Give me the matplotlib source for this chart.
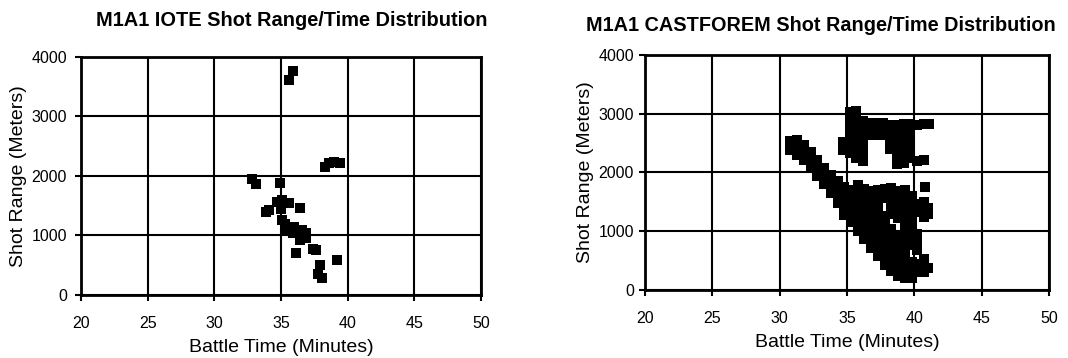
import matplotlib
matplotlib.use("Agg")
import matplotlib.pyplot as plt

plt.rcParams['font.family'] = ['Liberation Sans', 'DejaVu Sans']

# IOTE shots (minutes, meters)
iote_time = [35.9, 35.6, 38.3, 38.6, 39.0, 39.4, 32.8, 33.1, 34.9, 34.1, 33.9,
             34.7, 35.1, 35.6, 36.4, 35.0, 35.1, 35.3, 35.4, 35.6, 35.9, 36.0,
             36.4, 36.6, 36.9, 36.9, 36.4, 37.4, 37.6, 36.1, 37.9, 37.8, 38.1,
             39.2]
iote_range = [3770, 3620, 2150, 2210, 2230, 2220, 1950, 1870, 1885, 1430, 1400,
              1570, 1590, 1540, 1460, 1450, 1260, 1200, 1090, 1100, 1035, 1150,
              1035, 1100, 1035, 950, 920, 780, 755, 700, 500, 360, 280,
              590]

# CASTFOREM shots, listed column by column
cast_time = (
    [30.8] * 2 + [31.3] * 3 + [31.8] * 3 + [32.3] * 3 + [32.8] * 3 + [33.3] * 3
    + [33.8] * 3 + [34.3] * 4 + [34.8] * 5
    + [35.3] * 5 + [35.8] * 7 + [36.3] * 7 + [36.8] * 8 + [37.3] * 9
    + [37.8] * 9 + [38.3] * 10 + [38.8] * 10 + [39.3] * 12 + [39.8] * 10
    + [40.2] * 7 + [40.7] * 6 + [41.0] * 3 + [40.8]
    + [34.7] * 2 + [35.2] * 6 + [35.7] * 7 + [36.2] * 6 + [36.7] * 3
    + [37.2] * 3 + [37.7] * 3 + [38.2] * 4 + [38.7] * 6 + [39.2] * 6
    + [39.7] * 5 + [40.2] * 2 + [40.7] * 2 + [41.1]
)
cast_range = (
    [2380, 2530] + [2300, 2450, 2550] + [2220, 2360, 2460] + [2090, 2230, 2350]
    + [1940, 2080, 2210] + [1800, 1940, 2070] + [1650, 1790, 1950]
    + [1480, 1620, 1760, 1860] + [1280, 1420, 1560, 1700, 1760]
    + [1150, 1290, 1430, 1570, 1710]
    + [1000, 1140, 1280, 1420, 1560, 1700, 1780]
    + [870, 1010, 1150, 1290, 1430, 1570, 1720]
    + [720, 860, 1000, 1140, 1280, 1420, 1550, 1690]
    + [570, 710, 850, 990, 1130, 1270, 1420, 1570, 1700]
    + [420, 560, 700, 840, 980, 1120, 1260, 1560, 1720]
    + [330, 470, 610, 750, 890, 1030, 1300, 1450, 1600, 1740]
    + [230, 370, 510, 650, 790, 930, 1230, 1370, 1520, 1680]
    + [200, 340, 480, 620, 760, 900, 1040, 1180, 1320, 1460, 1600, 1700]
    + [200, 340, 480, 760, 900, 1040, 1180, 1320, 1460, 1600]
    + [300, 440, 680, 820, 960, 1320, 1460]
    + [300, 420, 520, 1250, 1400, 1500]
    + [380, 1300, 1400] + [1750]
    + [2380, 2520] + [2330, 2470, 2610, 2750, 2890, 3030]
    + [2250, 2390, 2530, 2670, 2810, 2950, 3050]
    + [2200, 2340, 2480, 2620, 2760, 2880]
    + [2640, 2760, 2840] + [2640, 2760, 2840] + [2640, 2760, 2840]
    + [2400, 2540, 2680, 2800] + [2150, 2300, 2440, 2580, 2720, 2800]
    + [2160, 2300, 2440, 2580, 2720, 2830] + [2250, 2400, 2550, 2700, 2820]
    + [2200, 2800] + [2220, 2820] + [2820]
)

x_ticks = [20, 25, 30, 35, 40, 45, 50]
y_ticks = [0, 1000, 2000, 3000, 4000]

fig = plt.figure(figsize=(10.68, 3.58), dpi=100)
ax1 = fig.add_axes([0.0758, 0.176, 0.3745, 0.665])
ax2 = fig.add_axes([0.6039, 0.19, 0.3783, 0.6564])


def style(ax, ypad):
    ax.set_xlim(20, 50)
    ax.set_ylim(0, 4000)
    ax.set_xticks(x_ticks)
    ax.set_yticks(y_ticks)
    ax.grid(True, color='black', linewidth=1.5)
    ax.set_axisbelow(True)
    for s in ax.spines.values():
        s.set_linewidth(2)
    ax.tick_params(direction='out', length=4, width=1.5, labelsize=11.5)
    ax.tick_params(axis='x', pad=11)
    ax.tick_params(axis='y', pad=ypad)
    ax.set_xlabel('Battle Time (Minutes)', fontsize=14, labelpad=6)
    ax.set_ylabel('Shot Range (Meters)', fontsize=14, labelpad=3)


ax1.scatter(iote_time, iote_range, marker='s', s=62, color='black', linewidths=0)
style(ax1, 6)
ax2.scatter(cast_time, cast_range, marker='s', s=62, color='black', linewidths=0)
style(ax2, 4)

fig.text(0.273, 0.944, 'M1A1 IOTE Shot Range/Time Distribution', fontsize=14.4,
         fontweight='bold', ha='center', va='center')
fig.text(0.769, 0.930, 'M1A1 CASTFOREM Shot Range/Time Distribution', fontsize=14.3,
         fontweight='bold', ha='center', va='center')

fig.savefig('out.png', dpi=100)
